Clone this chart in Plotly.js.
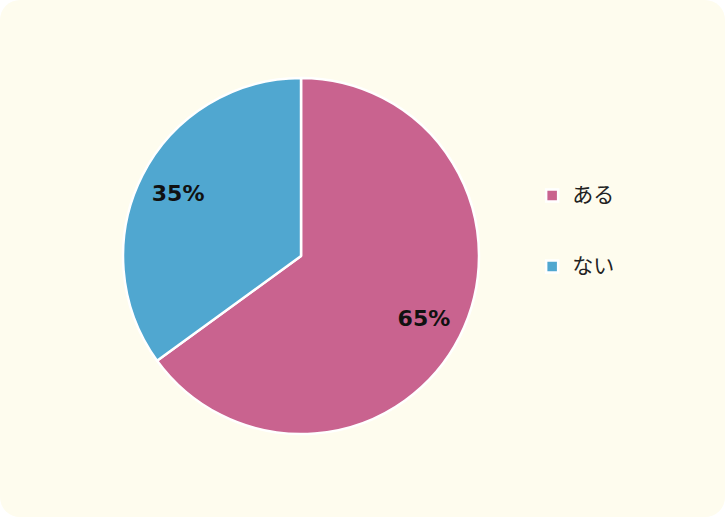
<!DOCTYPE html>
<html><head><meta charset="utf-8">
<script src="https://cdn.plot.ly/plotly-3.0.1.min.js"></script>
<style>
html,body{margin:0;padding:0;background:#ffffff;}
#wrap{position:absolute;left:0;top:0;width:725px;height:517px;background:#FEFCEE;border-radius:20px;overflow:hidden;}
#chart{width:725px;height:517px;}
</style></head>
<body><div id="wrap"><div id="chart"></div></div>
<script>
const categories = ['ある', 'ない'];
const values = [65, 35];
const colors = ['#C9638F', '#50A7D0'];

const legendLabels = categories.map(c => ' <br><span style="font-size:21px">' + c + '</span><br> ');
const dom = {x: [0.1697, 0.6607], y: [0.1605, 0.8491]};

Plotly.newPlot('chart', [{
  // full pie: the coloured slices and legend
  type: 'pie',
  labels: legendLabels,
  values: values,
  sort: false,
  direction: 'clockwise',
  rotation: 0,
  textinfo: 'none',
  marker: {colors: colors, line: {color: '#ffffff', width: 2.5}},
  domain: dom,
  automargin: false,
  hoverinfo: 'none'
}, {
  // transparent ring carrying the percentage labels further out
  type: 'pie',
  labels: legendLabels,
  values: values,
  sort: false,
  direction: 'clockwise',
  rotation: 0,
  hole: 0.55,
  showlegend: false,
  textinfo: 'percent',
  texttemplate: '%{percent:.0%}',
  textposition: 'inside',
  insidetextorientation: 'horizontal',
  textfont: {family: 'DejaVu Sans', size: 22, color: '#111111', weight: 'bold'},
  marker: {colors: ['rgba(0,0,0,0)', 'rgba(0,0,0,0)'], line: {width: 0}},
  domain: dom,
  automargin: false,
  hoverinfo: 'none'
}], {
  width: 725, height: 517,
  margin: {l: 0, r: 0, t: 0, b: 0},
  paper_bgcolor: 'rgba(0,0,0,0)',
  plot_bgcolor: 'rgba(0,0,0,0)',
  showlegend: true,
  legend: {
    x: 0.734, y: 0.553, xanchor: 'left', yanchor: 'middle',
    font: {family: 'Noto Sans CJK JP', size: 17.4, color: '#222222'},
    bgcolor: 'rgba(0,0,0,0)'
  }
}, {displayModeBar: false, staticPlot: true});
</script></body></html>
